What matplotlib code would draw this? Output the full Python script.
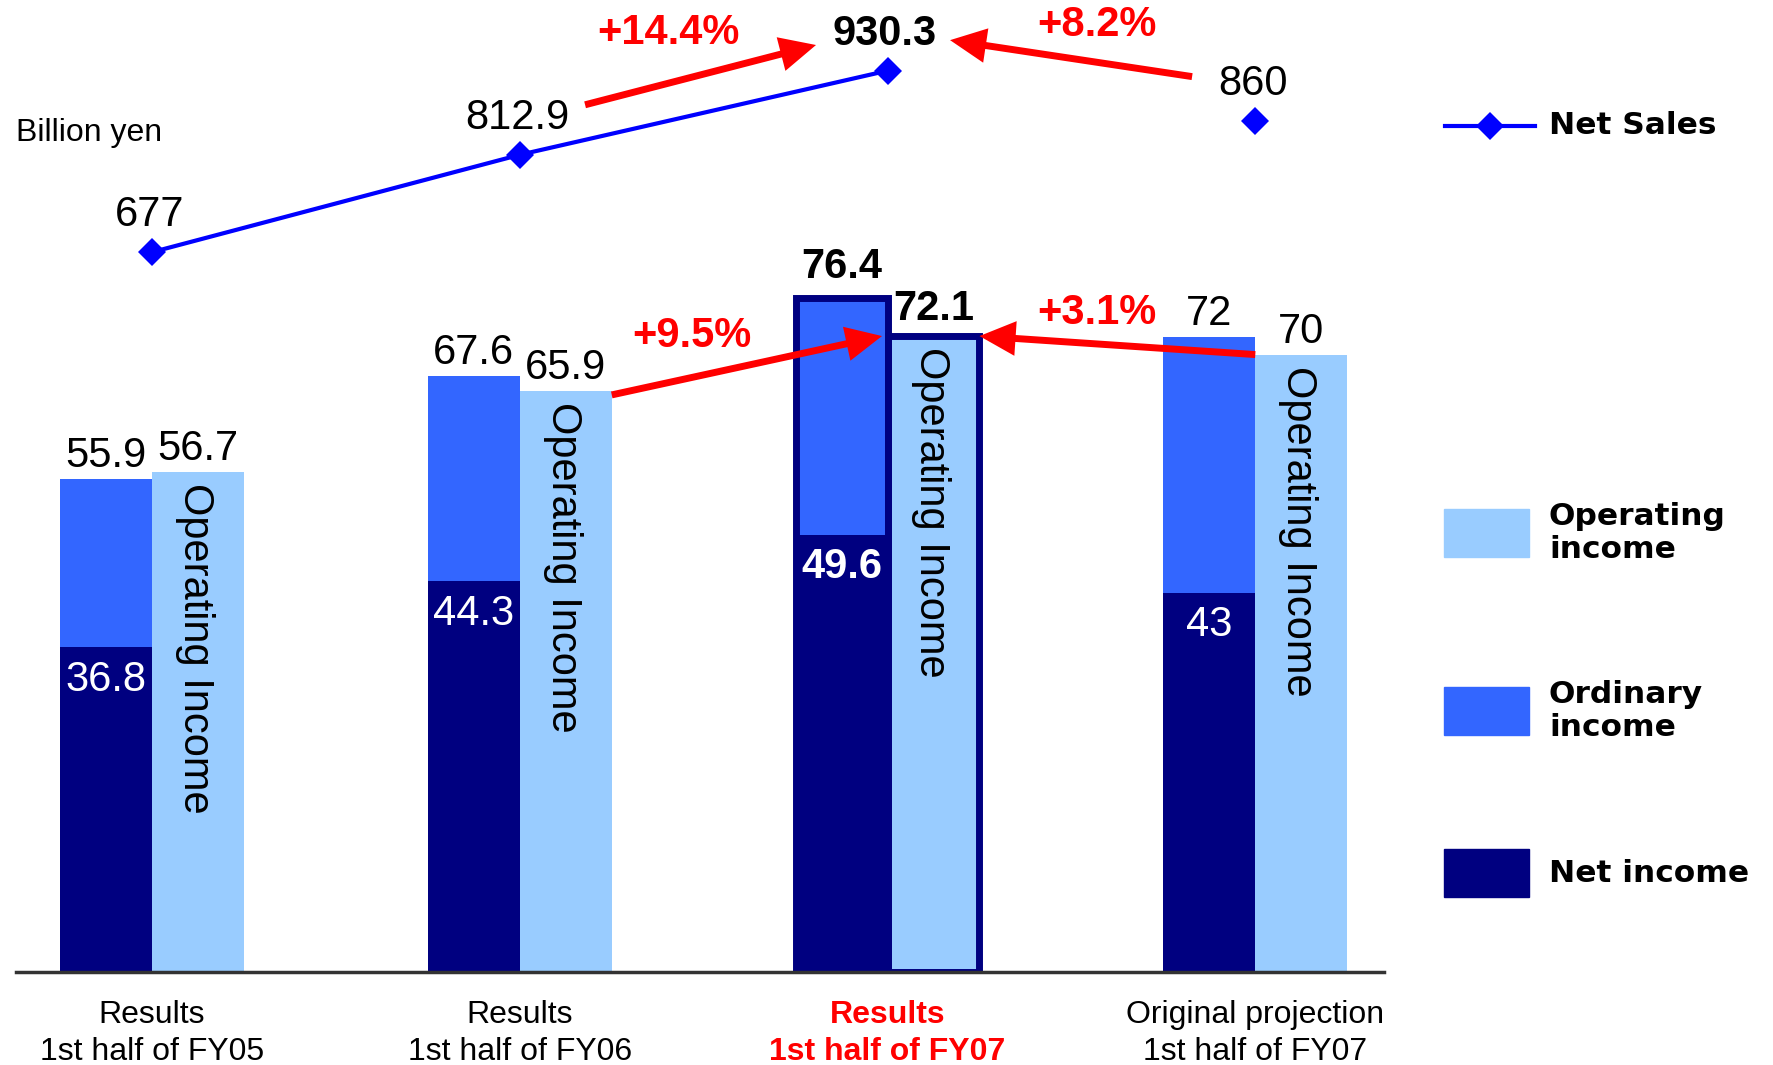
import matplotlib
matplotlib.use("Agg")
import matplotlib.pyplot as plt
import numpy as np
from matplotlib.transforms import offset_copy
from matplotlib.patches import Rectangle
from matplotlib.lines import Line2D

plt.rcParams["font.family"] = ["Liberation Sans", "DejaVu Sans"]

# ---- data (billion yen) ----
categories = ["Results\n1st half of FY05", "Results\n1st half of FY06",
              "Results\n1st half of FY07", "Original projection\n1st half of FY07"]
net_sales = [677, 812.9, 930.3, 860]
ordinary_income = [55.9, 67.6, 76.4, 72]
operating_income = [56.7, 65.9, 72.1, 70]
net_income = [36.8, 44.3, 49.6, 43]
sales_growth = ["+14.4%", "+8.2%"]
operating_growth = ["+9.5%", "+3.1%"]
legend_labels = ["Net Sales", "Operating\nincome", "Ordinary\nincome", "Net income"]
highlight = 2

NAVY = "#000080"
BLUE = "#3366FF"
LIGHT = "#99CCFF"
LINE = "#0000FF"
RED = "#FF0000"

W, H = 1773, 1065
fig = plt.figure(figsize=(W / 100, H / 100), dpi=100)
ax = fig.add_axes([16 / W, 93 / H, 1368 / W, 972 / H])

x = np.arange(len(categories))
w = 0.25

# stacked ordinary / net income bars and operating income bars
ax.bar(x - w / 2, ordinary_income, w, color=BLUE, zorder=2)
ax.bar(x - w / 2, net_income, w, color=NAVY, zorder=3)
ax.bar(x + w / 2, operating_income, w, color=LIGHT, zorder=2)
# outline for the current half-year result
ax.bar(x[highlight] - w / 2, ordinary_income[highlight], w, fill=False,
       edgecolor=NAVY, lw=5, zorder=4)
ax.bar(x[highlight] + w / 2, operating_income[highlight], w, fill=False,
       edgecolor=NAVY, lw=5, zorder=4)

ax.set_xlim(-0.37, 3.35)
ax.set_ylim(0, 110.2)
for s in ("top", "left", "right"):
    ax.spines[s].set_visible(False)
ax.spines["bottom"].set_color("#333333")
ax.spines["bottom"].set_linewidth(2.5)
ax.spines["bottom"].set_zorder(5)
ax.set_yticks([])
ax.set_xticks(x, categories)
ax.tick_params(axis="x", length=0, pad=20, labelsize=23)
for lbl in ax.get_xticklabels():
    lbl.set_linespacing(1.32)
hl = ax.get_xticklabels()[highlight]
hl.set_color(RED)
hl.set_fontweight("bold")

# value labels on bars
for i in range(len(x)):
    bold = "bold" if i == highlight else "normal"
    extra = 6 if i == highlight else 0
    ax.annotate(f"{ordinary_income[i]:g}", (x[i] - w / 2, ordinary_income[i]),
                xytext=(0, 2 + extra), textcoords="offset points",
                ha="center", va="bottom", fontsize=30, fontweight=bold)
    ax.annotate(f"{operating_income[i]:g}", (x[i] + w / 2, operating_income[i]),
                xytext=(0, 2 + extra / 2), textcoords="offset points",
                ha="center", va="bottom", fontsize=30, fontweight=bold)
    ax.annotate(f"{net_income[i]:g}", (x[i] - w / 2, net_income[i]),
                xytext=(0, -9), textcoords="offset points",
                ha="center", va="top", fontsize=30, fontweight=bold,
                color="white", zorder=6)
    ax.annotate("Operating Income", (x[i] + w / 2, operating_income[i]),
                xytext=(-2, -8), textcoords="offset points", rotation=-90,
                ha="center", va="top", fontsize=30, zorder=6)

# net sales on its own scale
ax2 = ax.twinx()
ax2.set_ylim(-328, 1029)
ax2.axis("off")
ax2.plot(x[:3], net_sales[:3], color=LINE, lw=3, marker="D", ms=14, mew=0)
ax2.plot(x[3:], net_sales[3:], color=LINE, lw=0, marker="D", ms=14, mew=0)
for i, v in enumerate(net_sales):
    ax2.annotate(f"{v:g}", (x[i], v), xytext=(-2, 12), textcoords="offset points",
                 ha="center", va="bottom", fontsize=30,
                 fontweight="bold" if i == highlight else "normal")

arrow_style = dict(arrowstyle="simple,head_length=2.6,head_width=2.5,tail_width=0.5",
                   mutation_scale=10, color=RED, shrinkA=0, shrinkB=0, lw=0)


def pt(axis, dx, dy):
    return offset_copy(axis.transData, fig=fig, x=dx, y=dy, units="points")


# growth arrows for net sales
ax2.annotate("", xy=(x[2], net_sales[2]), xycoords=pt(ax2, -51.5, 18.5),
             xytext=(x[1], net_sales[1]), textcoords=pt(ax2, 47, 36),
             arrowprops=arrow_style)
ax2.annotate("", xy=(x[2], net_sales[2]), xycoords=pt(ax2, 45, 22),
             xytext=(x[3], net_sales[3]), textcoords=pt(ax2, -45.5, 32),
             arrowprops=arrow_style)
# growth arrows for operating income
ax.annotate("", xy=(x[2], operating_income[2]), xycoords=pt(ax, -4, 0),
            xytext=(x[1] + w, operating_income[1]), textcoords=pt(ax, 0, -3),
            arrowprops=arrow_style, zorder=7)
ax.annotate("", xy=(x[2] + w, operating_income[2]), xycoords=pt(ax, 0, 0),
            xytext=(x[3], operating_income[3]), textcoords=pt(ax, 0, 0),
            arrowprops=arrow_style, zorder=7)

growth_pos = [(668, 33), (1097, 25), (692, 336), (1097, 313)]
for txt, (px, py) in zip(sales_growth + operating_growth, growth_pos):
    fig.text(px / W, 1 - py / H, txt, color=RED, fontsize=30, fontweight="bold",
             ha="center", va="center")

fig.text(16 / W, 1 - 133 / H, "Billion yen", fontsize=23, ha="left", va="center")

# legend
ly = 1 - 125.5 / H
fig.add_artist(Line2D([1445 / W, 1535 / W], [ly, ly], color=LINE, lw=3,
                      transform=fig.transFigure))
fig.add_artist(Line2D([1490 / W], [ly], color=LINE, lw=0, marker="D", ms=14,
                      mew=0, transform=fig.transFigure))
legend_font = dict(family="DejaVu Sans", fontweight="bold", fontsize=22.5,
                   ha="left", va="center", linespacing=1.2)
fig.text(1549 / W, ly, legend_labels[0], **legend_font)
for (top, color), label in zip([(509, LIGHT), (687, BLUE), (849, NAVY)],
                               legend_labels[1:]):
    fig.add_artist(Rectangle((1444 / W, 1 - (top + 48) / H), 85 / W, 48 / H,
                             color=color, transform=fig.transFigure))
    fig.text(1549 / W, 1 - (top + 24) / H, label, **legend_font)

fig.savefig("out.png", dpi=100)
